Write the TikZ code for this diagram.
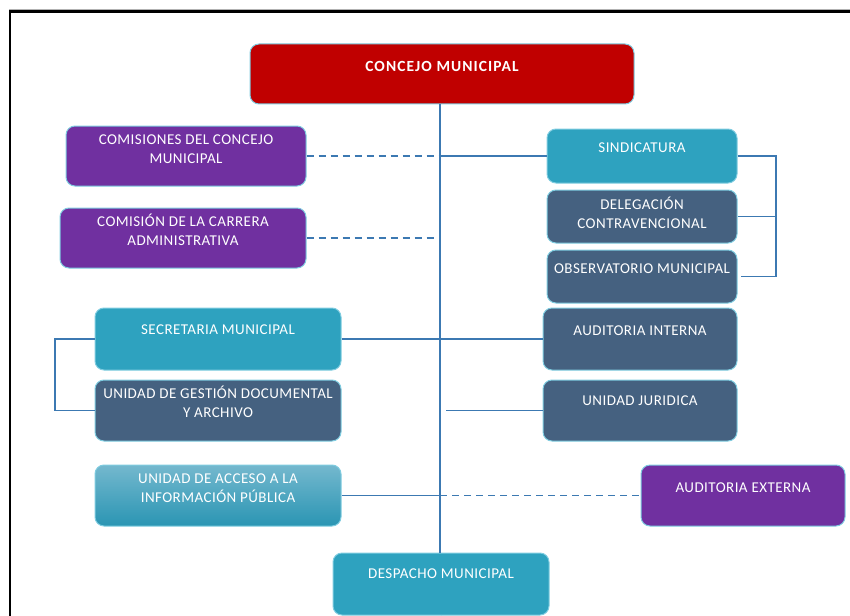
\documentclass[tikz,border=0pt]{standalone}
\usepackage{fontspec}
\setmainfont{Carlito}
\newfontfamily\boxfont[LetterSpace=3]{Carlito}
\newfontfamily\titlefont[LetterSpace=7]{Carlito Bold}
\definecolor{cred}{HTML}{C00000}
\definecolor{cpurple}{HTML}{7030A0}
\definecolor{cteal}{HTML}{2EA2BF}
\definecolor{cslate}{HTML}{456180}
\definecolor{cline}{HTML}{3C79B2}
\definecolor{cborder}{HTML}{7FCCE0}
\definecolor{accTop}{HTML}{74B8CE}
\definecolor{accBot}{HTML}{2A95B3}
\newcommand{\bxt}[4]{\parbox[c][#2][t]{#1}{\centering\baselineskip=19.5pt\vspace*{#3}\rule{0pt}{13.5pt}#4\par}}
\tikzset{
  box/.style={rounded corners=9pt, draw=cborder, line width=1pt, inner sep=0pt, text=white, font=\boxfont\fontsize{15}{19.5}\selectfont},
  redbox/.style={box, fill=cred, font=\titlefont\fontsize{15.5}{19.5}\selectfont},
  purplebox/.style={box, fill=cpurple},
  tealbox/.style={box, fill=cteal},
  slatebox/.style={box, fill=cslate},
  gradbox/.style={box, top color=accTop, bottom color=accBot},
  conn/.style={draw=cline, line width=1.6pt},
  dconn/.style={conn, dash pattern=on 7pt off 5pt}
}
\begin{document}
\begin{tikzpicture}[x=1pt,y=-1pt]
\useasboundingbox (0,0) rectangle (850,615);
\begin{scope}
\clip (0,0) rectangle (850,615);
\draw[gray!60, line width=0.8pt] (9,9.5) -- (860,9.5);
\draw[black, line width=2.5pt] (10,650) -- (10,11.5) -- (860,11.5);

\coordinate (t) at (440,0);
\coordinate (brx) at (776,0);
\coordinate (blx) at (55,0);
\coordinate (jx) at (446,0);

% nodes
\node[redbox] (concejo) at (442,74) {\bxt{384pt}{60pt}{13.8pt}{CONCEJO MUNICIPAL}};
\node[purplebox] (com) at (186,156) {\bxt{240pt}{60pt}{4.9pt}{COMISIONES DEL CONCEJO\\MUNICIPAL}};
\node[purplebox] (car) at (183,238) {\bxt{246pt}{60pt}{4.9pt}{COMISIÓN DE LA CARRERA\\ADMINISTRATIVA}};
\node[tealbox] (sind) at (642,156) {\bxt{190pt}{54pt}{9.9pt}{SINDICATURA}};
\node[slatebox] (del) at (642,216.5) {\bxt{190pt}{53pt}{5.9pt}{DELEGACIÓN\\CONTRAVENCIONAL}};
\node[slatebox] (obs) at (642,276.5) {\bxt{190pt}{53pt}{9.9pt}{OBSERVATORIO MUNICIPAL}};
\node[slatebox] (aud) at (640,339) {\bxt{194pt}{62pt}{13.9pt}{AUDITORIA INTERNA}};
\node[slatebox] (jur) at (640,410.5) {\bxt{194pt}{61pt}{11.9pt}{UNIDAD JURIDICA}};
\node[tealbox] (sec) at (218,339) {\bxt{246pt}{62pt}{12.9pt}{SECRETARIA MUNICIPAL}};
\node[slatebox] (ges) at (218,410.5) {\bxt{246pt}{61pt}{4.9pt}{UNIDAD DE GESTIÓN DOCUMENTAL\\Y ARCHIVO}};
\node[gradbox] (acc) at (218,495.5) {\bxt{246pt}{61pt}{4.9pt}{UNIDAD DE ACCESO A LA\\INFORMACIÓN PÚBLICA}};
\node[purplebox] (ext) at (743,495.5) {\bxt{204pt}{61pt}{13.9pt}{AUDITORIA EXTERNA}};
\node[tealbox] (desp) at (441,584) {\bxt{216pt}{62pt}{11.9pt}{DESPACHO MUNICIPAL}};

% connectors
\draw[conn] (concejo.south -| t) -- (desp.north -| t);
\draw[dconn] (com.east) -- (com.east -| t);
\draw[conn] (sind.west) -- (sind.west -| t);
\draw[dconn] (car.east) -- ([xshift=-3pt]car.east -| t);
\draw[conn] (sind.east) -- (sind.east -| brx) |- ([xshift=3pt]obs.east);
\draw[conn] (del.east) -- (del.east -| brx);
\draw[conn] (sec.east) -- (aud.west);
\draw[conn] (sec.west) -- (sec.west -| blx) |- (ges.west);
\draw[conn] (jur.west) -- (jur.west -| jx);
\draw[conn] (acc.east) -- (acc.east -| t);
\draw[dconn] (acc.east -| t) -- (ext.west);
\draw[conn] (desp.south) -- ++(0,6);
\end{scope}
\end{tikzpicture}
\end{document}
